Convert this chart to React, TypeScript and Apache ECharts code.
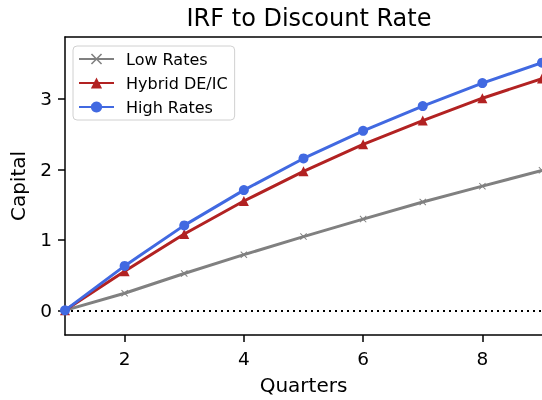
import React, { useEffect, useRef } from "react";
import * as echarts from "echarts";

const quarters = [1, 2, 3, 4, 5, 6, 7, 8, 9];
const lowRates = [0, 0.243, 0.523, 0.79, 1.047, 1.295, 1.538, 1.763, 1.987];
const hybrid = [0, 0.556, 1.084, 1.552, 1.973, 2.356, 2.693, 3.011, 3.29];
const highRates = [0, 0.631, 1.206, 1.707, 2.156, 2.548, 2.899, 3.226, 3.516];
const xTicks = [2, 4, 6, 8];
const yTicks = [0, 1, 2, 3];

const FONT = "DejaVu Sans";
const X_MARK =
  "path://M1,0 L5,4 L9,0 L10,1 L6,5 L10,9 L9,10 L5,6 L1,10 L0,9 L4,5 L0,1 Z";

export default function App() {
  const ref = useRef<HTMLDivElement>(null);
  useEffect(() => {
    if (!ref.current) return;
    const chart = echarts.init(ref.current, undefined, { renderer: "svg" });
    const pair = (arr: number[]) => quarters.map((q, i) => [q, arr[i]]);
    chart.setOption({
      animation: false,
      textStyle: { fontFamily: FONT },
      title: {
        text: "IRF to Discount Rate",
        left: 304,
        top: 1,
        textAlign: "center",
        textStyle: { fontFamily: FONT, fontSize: 24, fontWeight: "normal", color: "#000" },
      },
      legend: {
        orient: "vertical",
        left: 73,
        top: 46,
        backgroundColor: "#fff",
        borderColor: "#d0d0d0",
        borderWidth: 1,
        borderRadius: 4,
        padding: [5, 7, 5, 5],
        itemWidth: 35,
        itemHeight: 14,
        itemGap: 8,
        textStyle: { fontFamily: FONT, fontSize: 16, color: "#000", padding: [0, 0, 0, 7] },
        data: ["Low Rates", "Hybrid DE/IC", "High Rates"],
      },
      grid: { left: 64.5, top: 37, width: 480, height: 302 },
      xAxis: [
        {
          type: "value",
          min: 1,
          max: 9,
          name: "Quarters",
          nameLocation: "middle",
          nameGap: 40,
          nameTextStyle: { fontFamily: FONT, fontSize: 20, color: "#000" },
          axisLine: { show: true, onZero: false, lineStyle: { color: "#000", width: 1.5 } },
          axisTick: { show: true, customValues: xTicks, length: 7, lineStyle: { color: "#000", width: 1.5 } },
          axisLabel: { customValues: xTicks, fontFamily: FONT, fontSize: 18.5, color: "#000", margin: 14 },
          splitLine: { show: false },
        },
        {
          type: "value",
          position: "top",
          min: 1,
          max: 9,
          axisLine: { show: true, onZero: false, lineStyle: { color: "#000", width: 1.5 } },
          axisTick: { show: false },
          axisLabel: { show: false },
          splitLine: { show: false },
        },
      ],
      yAxis: {
        type: "value",
        min: -0.35,
        max: 3.88,
        name: "Capital",
        nameLocation: "middle",
        nameRotate: 90,
        nameGap: 37,
        nameTextStyle: { fontFamily: FONT, fontSize: 20, color: "#000" },
        axisLine: { show: true, onZero: false, lineStyle: { color: "#000", width: 1.5 } },
        axisTick: { show: true, customValues: yTicks, length: 7, lineStyle: { color: "#000", width: 1.5 } },
        axisLabel: { customValues: yTicks, fontFamily: FONT, fontSize: 18.5, color: "#000", margin: 13 },
        splitLine: { show: false },
      },
      series: [
        {
          name: "Low Rates",
          type: "line",
          data: pair(lowRates),
          symbol: X_MARK,
          symbolSize: 7,
          showAllSymbol: true,
          color: "#808080",
          lineStyle: { width: 3, color: "#808080" },
          itemStyle: { color: "#808080" },
          z: 2,
        },
        {
          name: "Hybrid DE/IC",
          type: "line",
          data: pair(hybrid),
          symbol: "triangle",
          symbolSize: 10,
          showAllSymbol: true,
          color: "#b22222",
          lineStyle: { width: 3, color: "#b22222" },
          itemStyle: { color: "#b22222" },
          z: 3,
        },
        {
          name: "High Rates",
          type: "line",
          data: pair(highRates),
          symbol: "circle",
          symbolSize: 10,
          showAllSymbol: true,
          color: "#4169e1",
          lineStyle: { width: 3, color: "#4169e1" },
          itemStyle: { color: "#4169e1" },
          z: 4,
          markLine: {
            silent: true,
            symbol: "none",
            label: { show: false },
            lineStyle: { color: "#000", type: [2, 4], width: 2 },
            data: [{ yAxis: 0 }],
            z: 1,
          },
        },
      ],
    });
    return () => chart.dispose();
  }, []);
  return (
    <div
      ref={ref}
      style={{ position: "fixed", left: 0, top: 0, width: 542, height: 400 }}
    />
  );
}
